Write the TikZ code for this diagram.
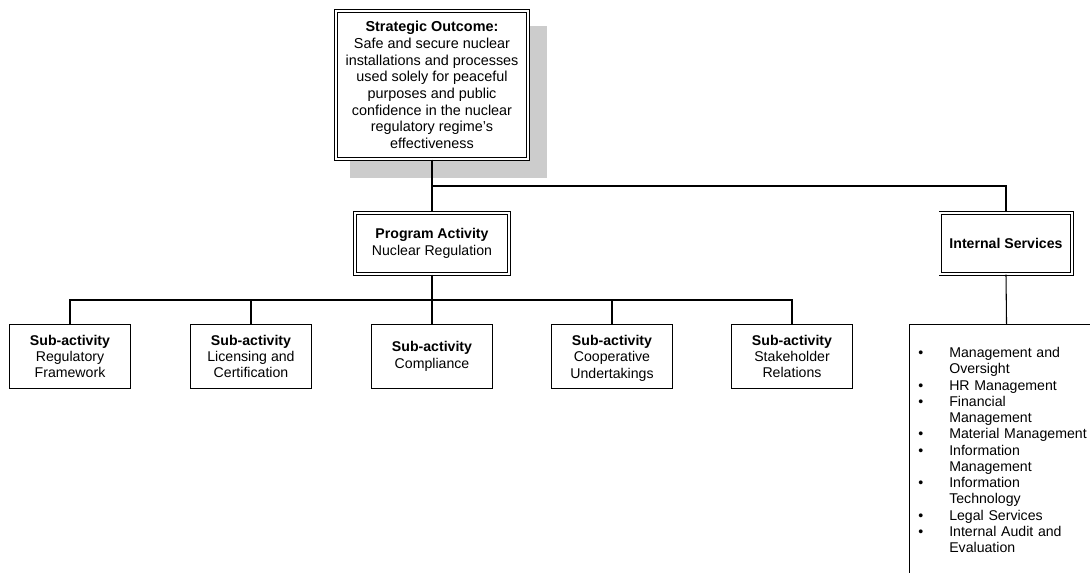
\documentclass[tikz,border=0pt]{standalone}
\usepackage{fontspec}
\setmainfont{Liberation Sans}
\usetikzlibrary{calc}
\newcommand\myfs{\fontsize{10.6}{12.3}\selectfont}
\newcommand\sofs{\fontsize{10.8}{12.5}\selectfont}
\newcommand\itm[1]{\par\hangindent=23.25pt\hangafter=1\noindent\makebox[23.25pt][l]{\textbullet}#1\par}
\newcommand\nodepth[1]{\raisebox{0pt}[\height][0pt]{#1}}
\begin{document}
\begin{tikzpicture}[x=0.75pt,y=-0.75pt,
  dbl/.style={draw, double, double distance=1.5pt, line width=0.65pt, fill=white, align=center, inner sep=2pt},
  sub/.style={draw, line width=0.8pt, fill=white, align=center, minimum width=90.75pt, minimum height=48pt, inner sep=2pt, font=\myfs},
  conn/.style={line width=0.8pt},
  shadowfill/.style={fill=black!20, draw=none}]
\useasboundingbox (0,0) rectangle (1090,573);
\fill[white] (0,0) rectangle (1090,573);
% shadow
\path[shadowfill] (350,26) rectangle (547,178);
% strategic outcome
\node[dbl, minimum width=144.2pt, minimum height=111.2pt, font=\sofs] (so) at (432,85)
  {\textbf{Strategic Outcome:}\\Safe and secure nuclear\\installations and processes\\used solely for peaceful\\purposes and public\\confidence in the nuclear\\regulatory regime's\\effectiveness};
% program activity
\node[dbl, minimum width=115.7pt, minimum height=45.95pt, font=\myfs] (pa) at (432,243.5)
  {\textbf{Program Activity}\\Nuclear Regulation};
% internal services
\node[dbl, minimum width=98.45pt, minimum height=45.95pt, font=\myfs] (is) at (1006,243.5)
  {\textbf{Internal Services}};
% sub-activities
\node[sub] (s1) at (70,356.5) {\textbf{Sub-activity}\\Regulatory\\Framework};
\node[sub] (s2) at (251,356.5) {\textbf{Sub-activity}\\Licensing and\\Certification};
\node[sub] (s3) at (432,356.5) {\textbf{Sub-activity}\\Compliance};
\node[sub] (s4) at (612,356.5) {\textbf{Sub-activity}\\Cooperative\\\nodepth{Undertakings}};
\node[sub] (s5) at (792,356.5) {\textbf{Sub-activity}\\Stakeholder\\Relations};
% list box
\begin{scope}
\clip (0,0) rectangle (1090,573);
\node[draw, line width=0.8pt, anchor=north west, minimum width=145.5pt, minimum height=225pt, inner sep=0] (lst) at (909,324) {};
\end{scope}
\node[anchor=north west, inner sep=0, text width=128pt, align=left, font=\fontsize{10.6}{12.2}\selectfont] (lsttext) at (918,341)
  {\hyphenpenalty=10000\exhyphenpenalty=10000\raggedright
   \itm{Management and Oversight}
   \itm{HR Management}
   \itm{Financial Management}
   \itm{Material Management}
   \itm{Information Management}
   \itm{Information Technology}
   \itm{Legal Services}
   \itm{Internal Audit and Evaluation}};
% connectors
\coordinate (j1) at (432,186);
\coordinate (bus) at (432,300);
\draw[conn] (so.south) -- (pa.north);
\draw[conn] (j1) -| (is.north);
\draw[conn] (pa.south) -- (s3.north);
\draw[conn] (s1.north) |- (bus) -| (s5.north);
\draw[conn] (s2.north) -- (s2.north |- bus);
\draw[conn] (s4.north) -- (s4.north |- bus);
\draw[conn] (is.south) -- (lst.north);
\end{tikzpicture}
\end{document}
